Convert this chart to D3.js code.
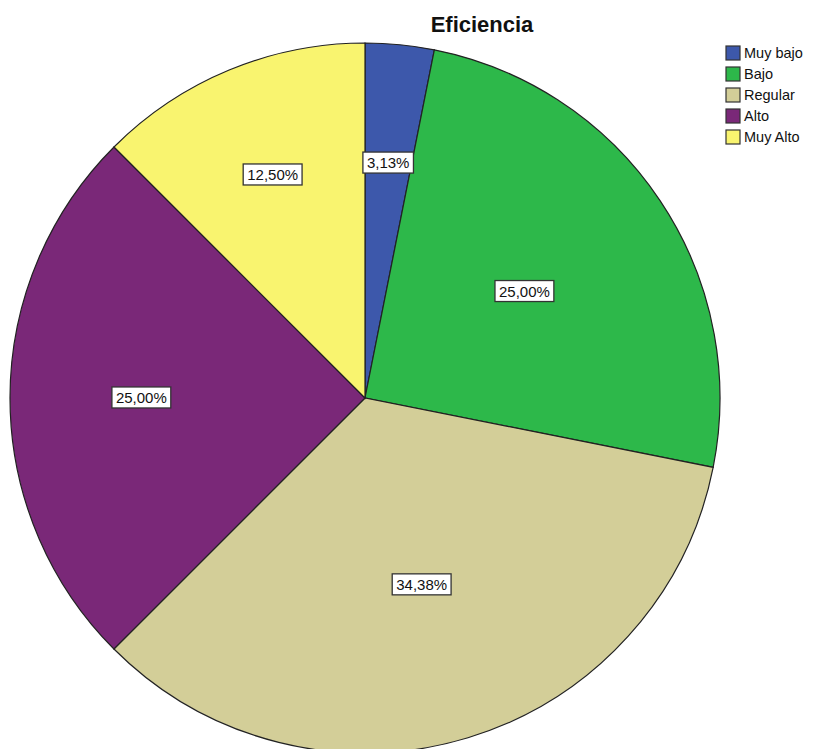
<!DOCTYPE html>
<html><head><meta charset="utf-8">
<script src="https://cdn.jsdelivr.net/npm/d3@7"></script>
<style>body{margin:0;background:#fff}</style>
</head><body>
<svg id="c" width="815" height="749"></svg>
<script>
const categories = ["Muy bajo","Bajo","Regular","Alto","Muy Alto"];
const values = [3.13, 25.00, 34.38, 25.00, 12.50];
const labels = ["3,13%","25,00%","34,38%","25,00%","12,50%"];
const colors = ["#3d58ab","#2db84a","#d3ce98","#7a2878","#f9f46f"];
const labelRadiusFrac = [0.665, 0.54, 0.55, 0.63, 0.68];

const svg = d3.select("#c");
const cx = 365, cy = 398, r = 355;

svg.append("text").attr("x", 482).attr("y", 32).attr("text-anchor","middle")
  .attr("font-family","Liberation Sans, Arial, sans-serif").attr("font-weight","bold")
  .attr("font-size", 22).attr("fill","#111").text("Eficiencia");

const pie = d3.pie().sort(null).value(d => d);
const arcs = pie(values);
const arc = d3.arc().innerRadius(0).outerRadius(r);
const g = svg.append("g").attr("transform", `translate(${cx},${cy})`);
g.selectAll("path").data(arcs).join("path")
  .attr("d", arc).attr("fill", (d,i) => colors[i])
  .attr("stroke", "#222").attr("stroke-width", 1.2);

arcs.forEach((d,i) => {
  const lr = r * labelRadiusFrac[i];
  const la = d3.arc().innerRadius(lr).outerRadius(lr);
  const [x,y] = la.centroid(d);
  const t = g.append("text").attr("x", x).attr("y", y + 5)
    .attr("text-anchor","middle").attr("font-family","Liberation Sans, Arial, sans-serif")
    .attr("font-size", 15).attr("fill","#111").text(labels[i]);
  const bb = t.node().getBBox();
  g.insert("rect", () => t.node()).attr("x", bb.x - 4).attr("y", bb.y - 2)
    .attr("width", bb.width + 8).attr("height", bb.height + 4)
    .attr("fill","#fff").attr("stroke","#333").attr("stroke-width",1.3);
});

const leg = svg.append("g").attr("transform","translate(726,46)");
categories.forEach((c,i) => {
  const row = leg.append("g").attr("transform",`translate(0,${i*21})`);
  row.append("rect").attr("width",14).attr("height",14).attr("fill",colors[i])
    .attr("stroke","#333").attr("stroke-width",1.2);
  row.append("text").attr("x",18).attr("y",12).attr("font-family","Liberation Sans, Arial, sans-serif")
    .attr("font-size",14.5).attr("fill","#111").text(c);
});
</script>
</body></html>
